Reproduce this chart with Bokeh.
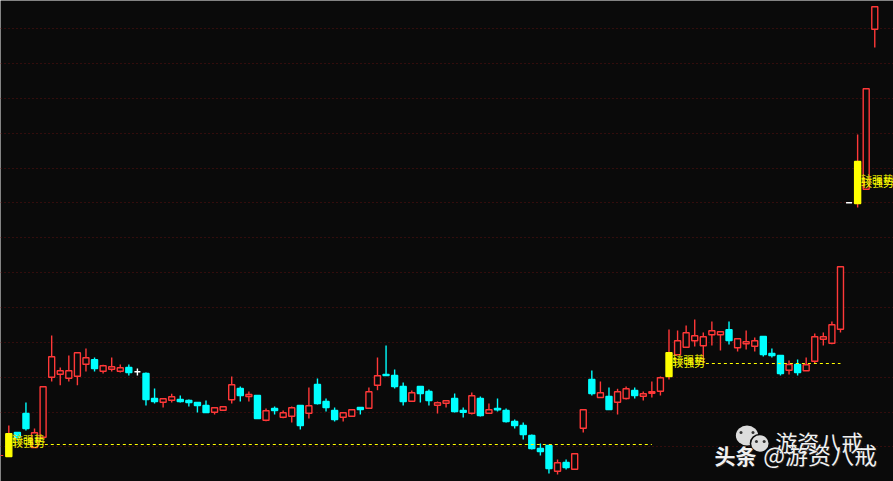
from bokeh.plotting import figure
from bokeh.models import Range1d, FixedTicker
from bokeh.core.properties import value
from bokeh.embed import file_html
from bokeh.resources import INLINE

# one row per candle: kind, body top, body bottom, high, low (chart level, counted downward)
candles = [
("y",433.3,456,425,456),("d",432,436.7,432,440),("d",413,428,402,430),("u",432.3,447,428,447),
("u",386.3,436.7,386.3,436.7),("u",356.3,376.7,335,381),("u",370.3,373.7,367,384.7),("u",370.3,377.7,355,381),
("u",352.3,375.7,352.3,384.7),("u",357.3,363.7,348,371),("d",359.3,368,357,371),("u",365.3,370.7,364.3,373),
("u",366.3,368.7,357,371),("u",367.3,370.7,364,372),("d",367,372,364,375),("w",371.3,371.3,368,375),
("d",373,399,372,405),("d",398,401,388,403),("u",398.3,401.7,398.3,407),("u",396.3,399.7,393.3,402),
("d",399,401,395,402),("d",400,402,399,406),("d",402,405,402,412),("d",405,412,400,412),
("u",407.3,411.7,407.3,414),("u",406.3,409.7,406.3,409.7),("u",384.3,399.3,376,403),("d",388,395,386,401),
("u",394,396,391,401),("d",395,418,395,418),("u",410.3,419.7,408,420.7),("d",408,410,406,414),
("u",412.3,416.7,410,417.7),("u",407.3,415.7,406,422),("d",405,425,405,429),("u",405.3,412.7,387,418),
("d",384,403,378,404),("d",401,407,398,411),("d",410,419,407,421),("u",412.3,416.7,412.3,421),
("u",409.3,415.7,409.3,415.7),("d",407,409,407,414),("u",391.3,407.7,387,407.7),("u",375.3,384.7,357,389.7),
("d",374,375,345,375),("d",375,386,369,388),("d",386,401,382,405),("u",392.3,400.7,390,400.7),
("d",386,393,386,402),("d",391,400,389,405),("u",402.3,404.7,401,413),("u",400.3,402.7,400.3,407),
("d",398,411,393,412),("d",410,411.7,407,417),("u",395.3,412.7,392,414),("d",398,415,396,416),
("u",409.3,412.7,403,412.7),("d",408,409.3,398,411),("d",410,421,408,422),("d",421,425,419,428),
("d",425,434,422,439),("d",435,448,434,449),("d",448,451,443,455),("d",445,468,445,473),
("u",462.3,470.7,459,474),("d",462,467,459,469),("u",453.3,468.7,453.3,468.7),("u",409.3,427.7,409.3,432),
("d",379,393,370,395),("u",392.3,397,381,397),("d",396,409,387,409),("u",391.3,401.7,388.3,414),
("u",388.3,398,386,399),("d",390,395,387,398),("u",393.3,395.7,391,400),("u",391.3,392.7,381,397),
("u",377.3,390.7,376,395),("y",352.3,376,329,379),("u",340.3,354.3,330,354.3),("u",332.3,346.7,325,347),
("u",335.3,340.3,319,346),("u",336.3,345.3,332,363),("u",330.3,334.3,321,345),("u",331.3,334.3,331.3,350),
("d",329.3,340,321,344),("u",338.3,347.3,338.3,351),("u",341.3,343.3,330,349),("u",340.3,345.7,337,351),
("d",336,354,336,356),("d",353,355,348,357),("d",355,373,355,375),("u",364,369.7,360,374),
("d",364,372,359,375),("u",364.3,370.3,357,370.3),("u",336.3,360.7,333,362.7),("u",336.3,338.7,332,345),
("u",324.3,342.7,321,343.7),("u",266.3,328.7,266.3,332),("w",202.3,202.3,202.3,202.3),("y",161,203,134,207),
("u",88.3,188.7,88.3,188.7),("u",6.3,28.7,6.3,47),
]
grid_levels = [28,63,98,133,168,202,237,272,307,342,377,412,446]
signal_label = "较强势"
signal_index = [0, 77, 99]
signal_level = [449, 369, 189]
dash_levels = [444, 363]
dash_from = [4.2, 81.3]
dash_to = [75.0, 97]
stray_index = [-1]
stray_level = [455]
icon_x = [86.1, 87.6]
icon_y = [435, 443]

bg = "#0a0a0a"
red = "#ff3838"
cyan = "#00ffff"
yellow = "#ffff00"
px = 8.574
x0 = 8.3

p = figure(width=893, height=481, output_backend="svg", toolbar_location=None,
           x_range=Range1d(-x0/px, (893-x0)/px), y_range=Range1d(481, 0),
           min_border=0, background_fill_color=bg, border_fill_color=bg,
           outline_line_color=None)
p.xaxis.visible = False
p.yaxis.visible = False
p.xgrid.visible = False
p.ygrid.ticker = FixedTicker(ticks=grid_levels)
p.ygrid.grid_line_color = "#5c1010"
p.ygrid.grid_line_dash = "1 3"
p.ygrid.grid_line_width = 1

kcol = {"u": red, "d": cyan, "y": red, "w": "#ffffff"}
x = list(range(len(candles)))
p.segment(x, [c[3] for c in candles], x, [c[4] for c in candles],
          line_color=[kcol[c[0]] for c in candles], line_width=1.4)

def body(kind, fill, line):
    idx = [i for i, c in enumerate(candles) if c[0] == kind]
    p.vbar(x=idx, width=0.7, top=[candles[i][1] for i in idx], bottom=[candles[i][2] for i in idx],
           fill_color=fill, line_color=line, line_width=1.4)

body("u", bg, red)
body("d", cyan, cyan)
body("y", yellow, yellow)
wi = [i for i, c in enumerate(candles) if c[0] == "w"]
p.segment([i-0.35 for i in wi], [candles[i][1] for i in wi], [i+0.35 for i in wi], [candles[i][1] for i in wi],
          line_color="#ffffff", line_width=1.4)
p.segment([i-0.35 for i in stray_index], stray_level, [i+0.35 for i in stray_index], stray_level,
          line_color=red, line_width=1.2)

p.segment(dash_from, dash_levels, dash_to, dash_levels, line_color=yellow, line_width=1.2, line_dash="3 3")

for off, col in ((-3, "#d0d000"), (0, yellow)):
    p.text([i+0.38 for i in signal_index], [l+off for l in signal_level], text=[signal_label]*3,
           text_color=col, text_font=value("Noto Sans CJK SC"), text_font_size="11px",
           text_baseline="bottom", text_align="left")

# watermark
p.ellipse(icon_x[:1], icon_y[:1], width=2.6, height=20, fill_color="#dcdcdc", line_color=None)
p.ellipse(icon_x[1:], icon_y[1:], width=2.2, height=18, fill_color="#dcdcdc", line_color=bg, line_width=1.5)
p.scatter([85.4, 86.8, 87.2, 88.1], [432, 432, 441, 441], size=3, fill_color="#333333", line_color=None)

def wm(xv, yv, txt, size, style="normal"):
    p.text([xv+0.1], [yv+1], text=[txt], text_color="#222222", text_font=value("Noto Sans CJK SC"),
           text_font_size=size, text_baseline="bottom", text_font_style=style)
    p.text([xv], [yv], text=[txt], text_color="#f0f0f0", text_font=value("Noto Sans CJK SC"),
           text_font_size=size, text_baseline="bottom", text_font_style=style)

wm(89.4, 456, "游资八戒", "22px")
wm(82.3, 469, "头条", "21px", "bold")
wm(88.0, 470, "@游资八戒", "23px")

open("out.html", "w").write(file_html(p, INLINE))
